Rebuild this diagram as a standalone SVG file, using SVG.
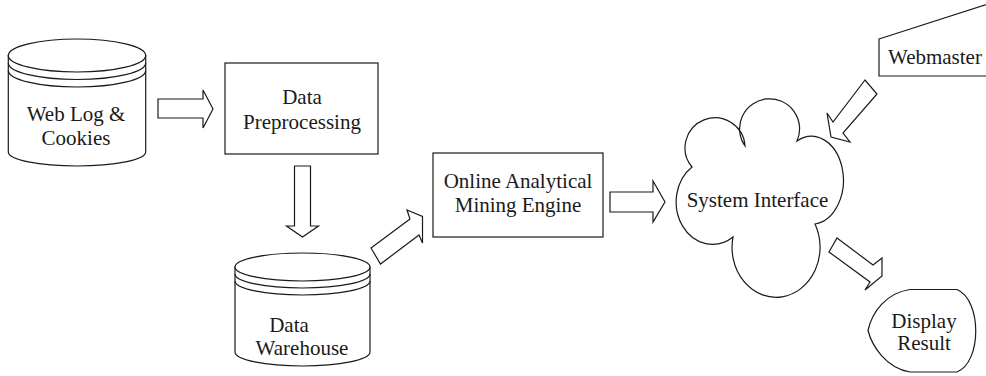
<svg xmlns="http://www.w3.org/2000/svg" width="986" height="376" viewBox="0 0 986 376">
<style>
.s{fill:#fff;stroke:#1a1a1a;stroke-width:1.2;stroke-linejoin:miter}
.l{fill:none;stroke:#1a1a1a;stroke-width:1.2}
.t{font-family:"Liberation Serif","Times New Roman",serif;font-size:21px;fill:#1a1a1a;text-anchor:middle}
</style>
<rect width="986" height="376" fill="#fff"/>
<g id="connectors">
<polygon class="s" points="158,99 203,99 203,90 213,109 203,128 203,118 158,118"/>
<polygon class="s" points="294.5,166 310.5,166 310.5,226 318.5,226 302.5,237 286.5,226 294.5,226"/>
<polygon class="s" points="371,248 410,219 407,210 422.5,216.5 422.5,243 419,235 380.5,264"/>
<polygon class="s" points="610,192 653,192 653,181 665,202 653,222 653,212 610,212"/>
<polygon class="s" points="865,80 833,122 827,113 831,137 850,142 843,133 877,94"/>
<polygon class="s" points="837,238 873,265 882,258 882,276 865,290 870,282 829,252"/>
</g>
<g id="weblog">
<path class="s" d="M8.3 55.5 V152 A68.7 14 0 0 0 145.7 152 V55.5 Z"/>
<ellipse class="s" cx="77" cy="55.5" rx="68.7" ry="16.5"/>
<path class="l" d="M8.3 63 A68.7 16.5 0 0 0 145.7 63 M8.3 70.5 A68.7 16.5 0 0 0 145.7 70.5"/>
<text class="t" x="76" y="121">Web Log &amp;</text>
<text class="t" x="76" y="145">Cookies</text>
</g>
<g id="preprocessing">
<rect class="s" x="225" y="63" width="153" height="91"/>
<text class="t" x="302" y="104">Data</text>
<text class="t" x="302" y="129">Preprocessing</text>
</g>
<g id="warehouse">
<path class="s" d="M235 267 V352 A67.5 14 0 0 0 370 352 V267 Z"/>
<ellipse class="s" cx="302.5" cy="267" rx="67.5" ry="14"/>
<path class="l" d="M235 274 A67.5 14 0 0 0 370 274 M235 281 A67.5 14 0 0 0 370 281"/>
<text class="t" x="289" y="332">Data</text>
<text class="t" x="302" y="355">Warehouse</text>
</g>
<g id="olap">
<rect class="s" x="433" y="153" width="170" height="84"/>
<text class="t" x="518" y="188">Online Analytical</text>
<text class="t" x="518" y="212">Mining Engine</text>
</g>
<g id="interface">
<path class="s" d="M692 167 A30 30 0 1 1 745 146 A30 30 0 1 1 797 141 A32 44 0 1 1 815 224 A44 50 0 1 1 733 237 A36 42 0 1 1 692 167 Z"/>
<text class="t" x="757.5" y="207">System Interface</text>
</g>
<g id="webmaster">
<polygon class="s" points="879,39 1000,0 1000,76 879,76"/>
<text class="t" x="888" y="64" style="text-anchor:start">Webmaster</text>
</g>
<g id="display">
<path class="s" d="M910 289.5 H957 C982 300 982 362 957 372 H910 C886 368 872 346 868 330.5 C872 312 886 293 910 289.5 Z"/>
<text class="t" x="924" y="328">Display</text>
<text class="t" x="924" y="350">Result</text>
</g>
</svg>
